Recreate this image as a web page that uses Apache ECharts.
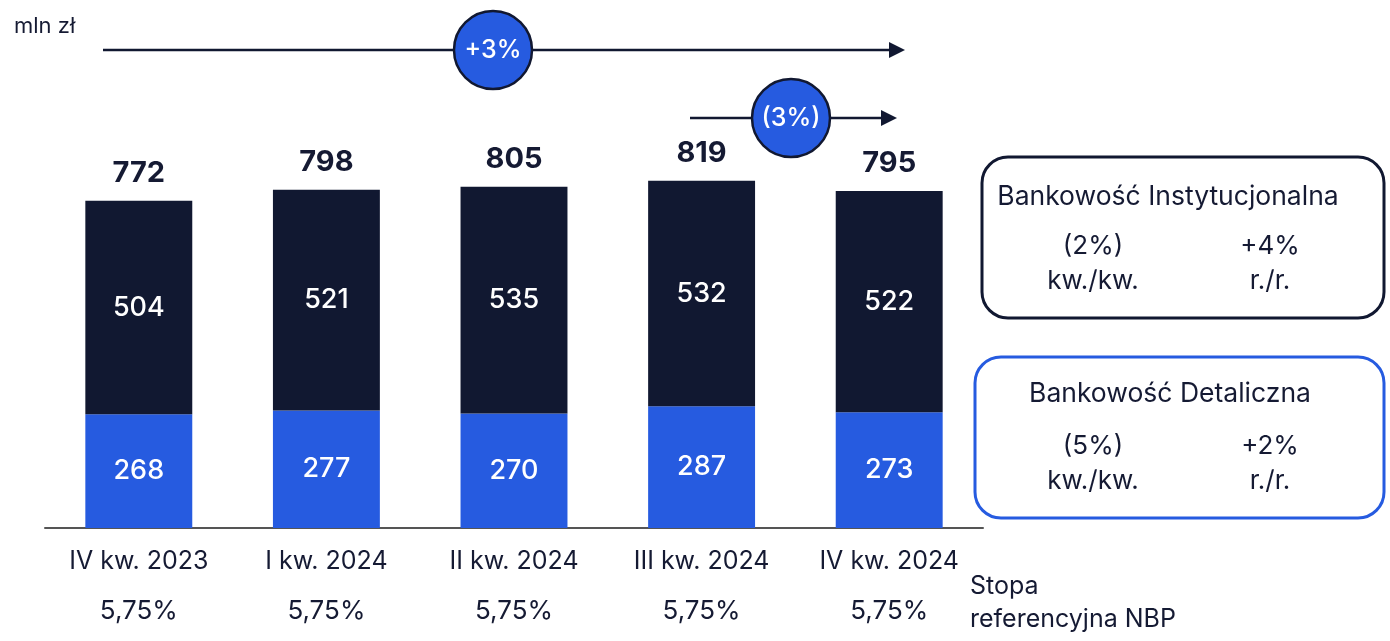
<!DOCTYPE html>
<html>
<head>
<meta charset="utf-8">
<script src="https://cdn.jsdelivr.net/npm/echarts@6/dist/echarts.min.js"></script>
<style>
  html, body { margin: 0; padding: 0; background: #ffffff; }
  #chart { width: 1390px; height: 641px; }
</style>
</head>
<body>
<div id="chart"></div>
<script>
// Quarterly revenue split, mln zł
const quarters = ['IV kw. 2023', 'I kw. 2024', 'II kw. 2024', 'III kw. 2024', 'IV kw. 2024'];
const nbpRate = ['5,75%', '5,75%', '5,75%', '5,75%', '5,75%'];
const retail = [268, 277, 270, 287, 273];          // Bankowość Detaliczna
const institutional = [504, 521, 535, 532, 522];   // Bankowość Instytucjonalna
const totals = retail.map((v, i) => v + institutional[i]);

const NAVY = '#111831';
const BLUE = '#265BE0';
const TEXT = '#151a33';
const FONT = 'Inter, "Noto Sans", sans-serif';

const chart = echarts.init(document.getElementById('chart'));

function circleBadge(cx, cy, r, label) {
  return {
    type: 'group',
    children: [
      { type: 'circle', shape: { cx: cx, cy: cy, r: r },
        style: { fill: BLUE, stroke: NAVY, lineWidth: 2.5 } },
      { type: 'text', x: cx, y: cy,
        style: { text: label, fill: '#ffffff', font: '500 25px ' + FONT,
                 textAlign: 'center', textVerticalAlign: 'middle' } }
    ]
  };
}

function arrow(x1, x2, y) {
  return {
    type: 'group',
    children: [
      { type: 'line', shape: { x1: x1, y1: y, x2: x2 - 14, y2: y },
        style: { stroke: NAVY, lineWidth: 2.5 } },
      { type: 'polygon', shape: { points: [[x2 - 16, y - 8], [x2, y], [x2 - 16, y + 8]] },
        style: { fill: NAVY } }
    ]
  };
}

function summaryBox(x, y, w, h, color, title, titleX, titleDy, qoq, yoy) {
  const txt = (tx, ty, s, size) => ({
    type: 'text', x: tx, y: ty,
    style: { text: s, fill: TEXT, font: '400 ' + size + 'px ' + FONT,
             textAlign: 'center', textVerticalAlign: 'middle' }
  });
  return {
    type: 'group',
    children: [
      { type: 'rect', shape: { x: x, y: y, width: w, height: h, r: 26 },
        style: { fill: '#ffffff', stroke: color, lineWidth: 3 } },
      txt(titleX, y + titleDy, title, 26.5),
      txt(1093, y + 89, qoq, 26),
      txt(1270, y + 89, yoy, 26),
      txt(1093, y + 124, 'kw./kw.', 26),
      txt(1270, y + 124, 'r./r.', 26)
    ]
  };
}

chart.setOption({
  animation: false,
  grid: { left: 45, right: 407, top: 104, bottom: 113, containLabel: false },
  xAxis: {
    type: 'category',
    data: quarters,
    axisLine: { show: true, lineStyle: { color: '#555555', width: 2 } },
    axisTick: { show: false },
    axisLabel: {
      margin: 15,
      interval: 0,
      formatter: (v, i) => '{q|' + v + '}\n{r|' + nbpRate[i] + '}',
      rich: {
        q: { fontFamily: FONT, fontSize: 25, color: TEXT, lineHeight: 36 },
        r: { fontFamily: FONT, fontSize: 26, color: TEXT, lineHeight: 64 }
      }
    }
  },
  yAxis: {
    type: 'value', min: 0, max: 1000,
    show: false, splitLine: { show: false }
  },
  series: [
    {
      name: 'Bankowość Detaliczna', type: 'bar', stack: 'total',
      data: retail, barWidth: '57%',
      itemStyle: { color: BLUE },
      label: { show: true, position: 'inside', color: '#ffffff',
               fontFamily: FONT, fontSize: 27, fontWeight: 500 }
    },
    {
      name: 'Bankowość Instytucjonalna', type: 'bar', stack: 'total',
      data: institutional, barWidth: '57%',
      itemStyle: { color: NAVY },
      label: { show: true, position: 'inside', color: '#ffffff',
               fontFamily: FONT, fontSize: 27, fontWeight: 500 }
    },
    {
      name: 'Razem', type: 'scatter', data: totals,
      symbolSize: 0, silent: true,
      itemStyle: { opacity: 1, color: NAVY },
      label: { show: true, position: 'top', distance: 13, color: TEXT,
               fontFamily: FONT, fontSize: 29, fontWeight: 700 }
    }
  ],
  graphic: [
    { type: 'text', left: 14, top: 15,
      style: { text: 'mln zł', fill: TEXT, font: '400 22px ' + FONT } },
    arrow(103, 905, 50),
    circleBadge(493, 50, 39, '+3%'),
    arrow(690, 897, 118),
    circleBadge(791, 118, 39, '(3%)'),
    summaryBox(982, 157, 402, 161, NAVY, 'Bankowość Instytucjonalna', 1168, 40, '(2%)', '+4%'),
    summaryBox(975, 357, 409, 161, BLUE, 'Bankowość Detaliczna', 1170, 37, '(5%)', '+2%'),
    { type: 'text', left: 970, top: 570,
      style: { text: 'Stopa\nreferencyjna NBP', fill: TEXT, font: '400 25px ' + FONT,
               lineHeight: 33 } }
  ]
});
</script>
</body>
</html>
